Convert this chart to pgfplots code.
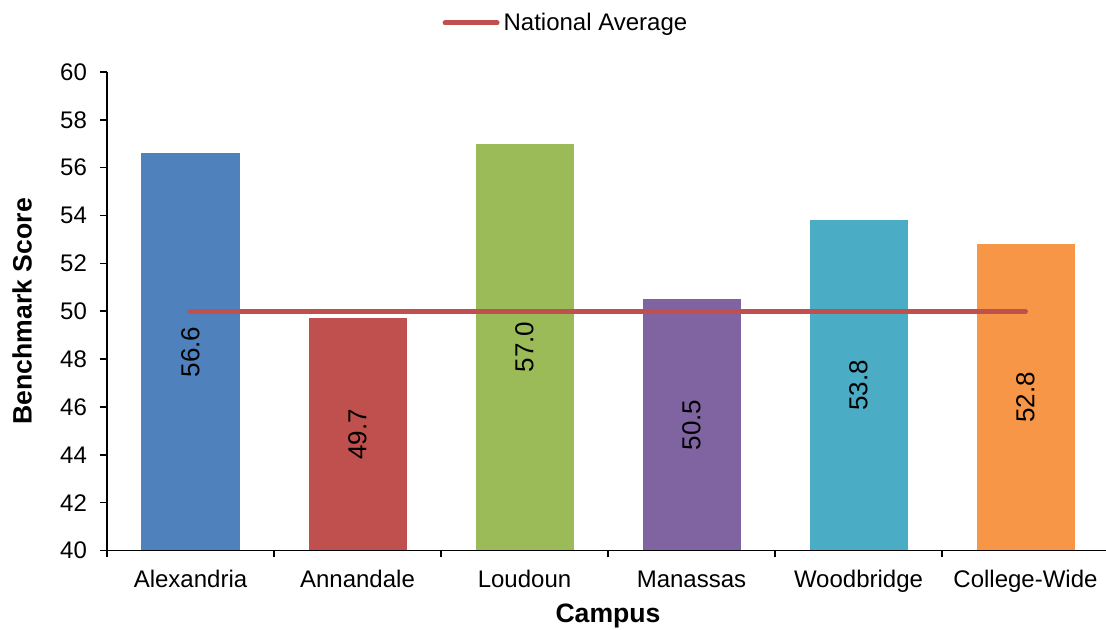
\documentclass[border=0pt]{standalone}
\usepackage{fontspec}
\setmainfont{Liberation Sans}
\usepackage{pgfplots}
\pgfplotsset{compat=1.18}
\definecolor{cA}{HTML}{4F81BD}
\definecolor{cB}{HTML}{C0504D}
\definecolor{cC}{HTML}{9BBB59}
\definecolor{cD}{HTML}{8064A2}
\definecolor{cE}{HTML}{4BACC6}
\definecolor{cF}{HTML}{F79646}
\newcommand{\ft}{\fontsize{12}{14}\selectfont}
\newcommand{\fl}{\fontsize{13.3}{16}\selectfont}
\newcommand{\fd}{\fontsize{13}{15}\selectfont}
\begin{document}
\begin{tikzpicture}
\begin{axis}[
  scale only axis,
  width=501pt, height=239.25pt,
  xmin=-0.5, xmax=5.5,
  ymin=40, ymax=60,
  ytick={40,42,...,60},
  xtick={-0.5,0.5,1.5,2.5,3.5,4.5,5.5},
  xticklabels={},
  extra x ticks={0,1,2,3,4,5},
  extra x tick labels={Alexandria,Annandale,Loudoun,Manassas,Woodbridge,College-Wide},
  extra x tick style={major tick length=0pt},
  axis x line*=bottom, axis y line*=left,
  axis line style={line width=0.75pt, black},
  every tick/.style={line width=0.75pt, black},
  tick align=outside,
  major tick length=3.5pt,
  /pgf/number format/assume math mode=true,
  tick label style={font=\ft},
  xticklabel style={yshift=-6.5pt},
  yticklabel style={xshift=-3pt},
  ylabel={Benchmark Score},
  xlabel={Campus},
  label style={font=\fl\bfseries},
  ylabel style={at={(axis description cs:-0.0848,0.5)}, anchor=center},
  xlabel style={at={(axis description cs:0.5,-0.1369)}, anchor=center},
  legend style={at={(axis description cs:0.459,1.1024)}, anchor=center, draw=none, font=\ft, inner sep=0pt},
  legend image code/.code={\draw[#1, line width=2.5pt, line cap=round] (0pt,0pt) -- (26pt,0pt);},
  nodes near coords={\pgfmathprintnumber[fixed,precision=1,zerofill]{\pgfplotspointmeta}},
  visualization depends on={rawy \as \rawy},
  every node near coord/.style={font=\fd, anchor=center, yshift={-(\rawy-40)*5.98125pt}, rotate=90, black},
]
\addplot[ybar, bar width=49pt, bar shift=0pt, fill=cA, draw=none, forget plot] coordinates {(0,56.6)};
\addplot[ybar, bar width=49pt, bar shift=0pt, fill=cB, draw=none, forget plot] coordinates {(1,49.7)};
\addplot[ybar, bar width=49pt, bar shift=0pt, fill=cC, draw=none, forget plot] coordinates {(2,57.0)};
\addplot[ybar, bar width=49pt, bar shift=0pt, fill=cD, draw=none, forget plot] coordinates {(3,50.5)};
\addplot[ybar, bar width=49pt, bar shift=0pt, fill=cE, draw=none, forget plot] coordinates {(4,53.8)};
\addplot[ybar, bar width=49pt, bar shift=0pt, fill=cF, draw=none, forget plot] coordinates {(5,52.8)};
\addplot[cB, line width=2.5pt, line cap=round, nodes near coords={}, no marks] coordinates {(0,50) (5,50)};
\addlegendentry{National Average}
\end{axis}
\pgfresetboundingbox
\path (-53.5pt,-39.75pt) rectangle (499.5pt,275.25pt);
\end{tikzpicture}
\end{document}
